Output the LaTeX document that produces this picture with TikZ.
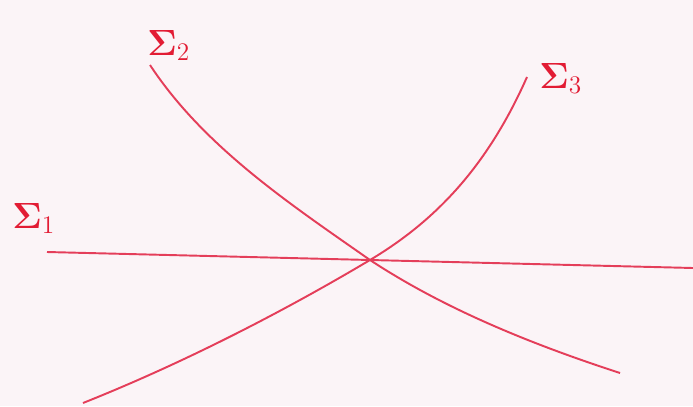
\documentclass[tikz,border=0pt]{standalone}
\usepackage{amsmath,amssymb}
\usepackage{xcolor}
\usetikzlibrary{positioning,calc}
\definecolor{bgclr}{RGB}{251,244,247}
\definecolor{surfclr}{RGB}{228,62,90}
\definecolor{lblclr}{RGB}{226,28,52}
\tikzset{
  surf/.style={draw=surfclr,line width=1.1pt},
  lbl/.style={text=lblclr,inner sep=0pt,font=\fontsize{21}{24}\selectfont},
}

\begin{document}
\begin{tikzpicture}[x=0.02cm,y=-0.02cm]
% background / frame
\fill[bgclr] (0,0) rectangle (693,406);
\useasboundingbox (0,0) rectangle (693,406);

% common point
\coordinate (o) at (370,260);

% end points
\coordinate (s1a) at (47,252);
\coordinate (s1b) at (693,268);
\coordinate (s2a) at (150,65);
\coordinate (s2b) at (620,373);
\coordinate (s3a) at (527,77);
\coordinate (s3b) at (83,403);

% Sigma_1 (plane)
\draw[surf] (s1a) -- (o) -- (s1b);

% Sigma_2
\draw[surf] (s2a) .. controls (204,147) and (290,204) .. (o)
                  .. controls (446,310) and (534,345) .. (s2b);

% Sigma_3
\draw[surf] (s3a) .. controls (488,165) and (437,220) .. (o)
                  .. controls (281,313) and (181,364) .. (s3b);

% labels
\node[lbl,anchor=base west] (l1) at (12,228) {$\mathbf{\Sigma}_1$};
\node[lbl,anchor=base west] (l2) at (147,55) {$\mathbf{\Sigma}_2$};
\node[lbl,anchor=base west] (l3) at (539,88) {$\mathbf{\Sigma}_3$};

\end{tikzpicture}
\end{document}
